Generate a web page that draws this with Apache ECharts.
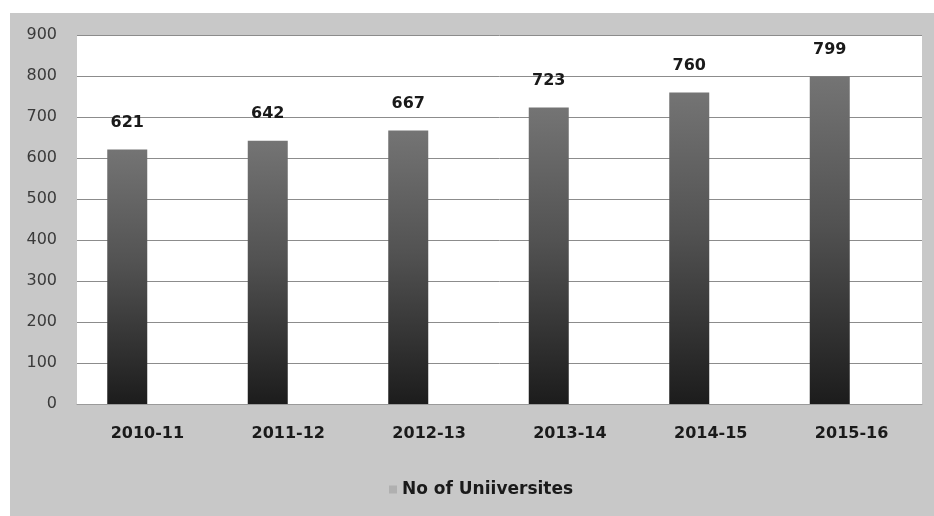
<!DOCTYPE html>
<html>
<head>
<meta charset="utf-8">
<script src="https://cdn.jsdelivr.net/npm/echarts@6/dist/echarts.min.js"></script>
<style>
html,body{margin:0;padding:0;background:#fff;}
#c{width:934px;height:516px;}
</style>
</head>
<body>
<div id="c"></div>
<script>
var categories = ['2010-11', '2011-12', '2012-13', '2013-14', '2014-15', '2015-16'];
var universities = [621, 642, 667, 723, 760, 799];
var seriesName = 'No of Uniiversites';

var chart = echarts.init(document.getElementById('c'), null, {renderer: 'canvas'});
var font = 'DejaVu Sans';
chart.setOption({
  animation: false,
  backgroundColor: '#ffffff',
  graphic: [{
    type: 'rect', z: -10,
    shape: {x: 10, y: 13, width: 924, height: 503},
    style: {fill: '#c8c8c8'}
  }],
  legend: {
    left: 384, top: 476,
    itemWidth: 8, itemHeight: 8,
    data: [{name: seriesName, icon: 'rect', itemStyle: {color: '#b0b0b0'}}],
    textStyle: {fontFamily: font, fontWeight: 'bold', fontSize: 17, color: '#1a1a1a'}
  },
  grid: [
    {left: 77, right: 12, top: 35, bottom: 112, show: true, backgroundColor: '#ffffff', borderWidth: 0},
    {left: 57, right: 34, top: 35, bottom: 112}
  ],
  xAxis: [
    {type: 'category', gridIndex: 0, data: categories,
     axisLine: {show: true, lineStyle: {color: '#9a9a9a'}}, axisTick: {show: false},
     axisLabel: {margin: 22, fontFamily: font, fontWeight: 'bold', fontSize: 16, color: '#1a1a1a'}},
    {type: 'category', gridIndex: 1, data: categories, show: false}
  ],
  yAxis: [
    {type: 'value', gridIndex: 0, min: 0, max: 900, interval: 100,
     axisLine: {show: false}, axisTick: {show: false},
     splitLine: {lineStyle: {color: '#8c8c8c', width: 1}},
     axisLabel: {margin: 20, fontFamily: font, fontSize: 16, color: '#3a3a3a'}},
    {type: 'value', gridIndex: 1, min: 0, max: 900, interval: 100, show: false, splitLine: {show: false}}
  ],
  series: [{
    name: seriesName, type: 'bar', xAxisIndex: 1, yAxisIndex: 1,
    data: universities, barWidth: 40,
    itemStyle: {color: {type: 'linear', x: 0, y: 0, x2: 0, y2: 1,
      colorStops: [{offset: 0, color: '#747474'}, {offset: 0.45, color: '#525252'}, {offset: 1, color: '#1c1c1c'}]}},
    label: {show: true, position: 'top', distance: 19, fontFamily: font, fontWeight: 'bold', fontSize: 16, color: '#1a1a1a'}
  }]
});
</script>
</body>
</html>
